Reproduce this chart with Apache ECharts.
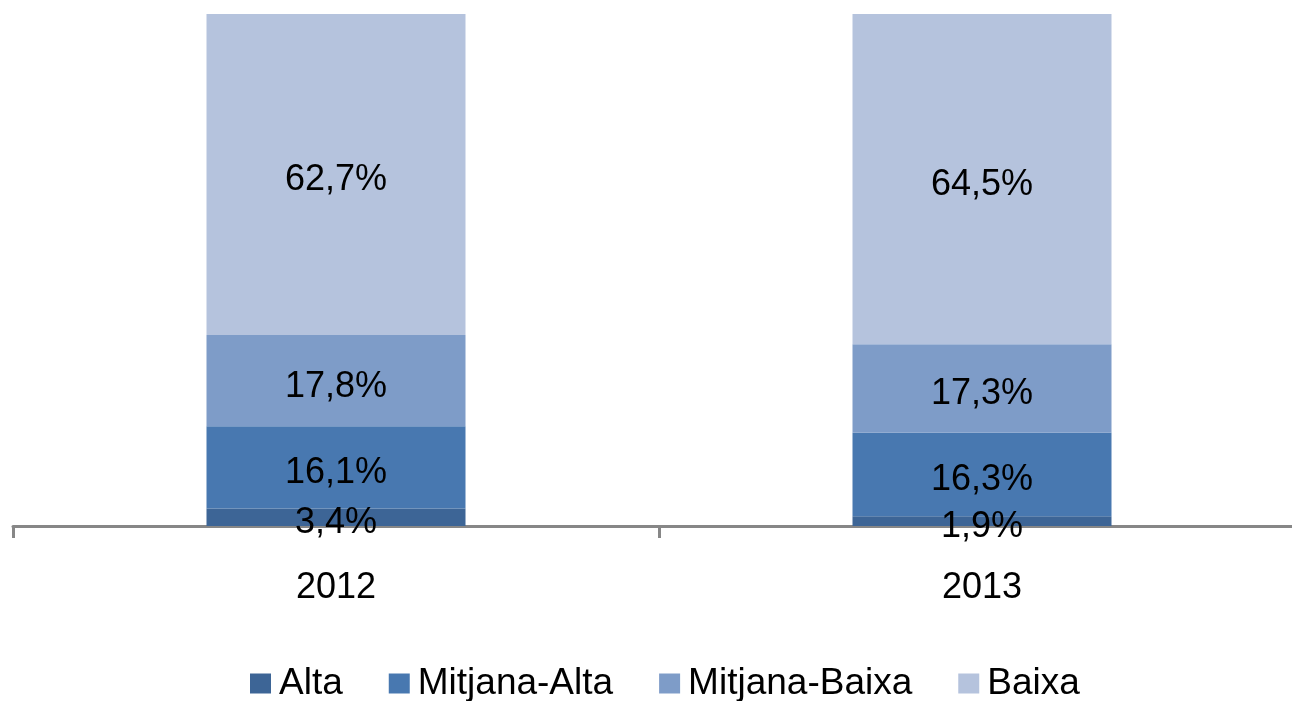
<!DOCTYPE html>
<html lang="ca">
<head>
  <meta charset="UTF-8">
  <title>Distribució</title>
  <script src="https://cdn.jsdelivr.net/npm/echarts@6/dist/echarts.min.js"></script>
  <style>
    html, body { margin: 0; padding: 0; background: #fff; overflow: hidden; }
  </style>
</head>
<body>
  <!-- el gràfic és una mica més ample que la finestra: l'eix continua per la dreta -->
  <div id="main" style="width:1305px; height:701px;"></div>
  <script>
    // dades
    var anys = ['2012', '2013'];
    var alta = [3.4, 1.9];
    var mitjanaAlta = [16.1, 16.3];
    var mitjanaBaixa = [17.8, 17.3];
    var baixa = [62.7, 64.5];

    var noms = ['Alta', 'Mitjana-Alta', 'Mitjana-Baixa', 'Baixa'];
    var colors = ['#3d6596', '#4878b0', '#7e9cc8', '#b5c3dd'];
    var valors = [alta, mitjanaAlta, mitjanaBaixa, baixa];

    var chart = echarts.init(document.getElementById('main'));

    var series = [];
    for (var i = 0; i < noms.length; i++) {
      series.push({
        name: noms[i],
        type: 'bar',
        stack: 'total',
        barWidth: 259,
        data: valors[i],
        itemStyle: { color: colors[i] },
        label: {
          show: true,
          position: 'inside',
          offset: [0, 6],
          color: '#000',
          fontFamily: 'Liberation Sans, Arial, sans-serif',
          fontSize: 36,
          formatter: function (p) {
            return p.value.toFixed(1).replace('.', ',') + '%';
          }
        }
      });
    }

    var option = {
      animation: false,
      color: colors,
      grid: { left: 13, right: 0, top: 14, bottom: 175, containLabel: false },
      legend: {
        left: 245,
        top: 660,
        itemWidth: 21,
        itemHeight: 20,
        itemGap: 46,
        icon: 'rect',
        textStyle: {
          color: '#000',
          fontFamily: 'Liberation Sans, Arial, sans-serif',
          fontSize: 37,
          padding: [0, 0, 0, 3]
        },
        data: noms
      },
      xAxis: {
        type: 'category',
        data: anys,
        axisLine: { lineStyle: { color: '#878787', width: 3 } },
        axisTick: { show: true, length: 12, lineStyle: { color: '#878787', width: 3 } },
        axisLabel: {
          color: '#000',
          fontFamily: 'Liberation Sans, Arial, sans-serif',
          fontSize: 36,
          margin: 44
        }
      },
      yAxis: {
        type: 'value',
        min: 0,
        max: 100,
        show: false,
        splitLine: { show: false }
      },
      series: series
    };

    chart.setOption(option);
  </script>
</body>
</html>
